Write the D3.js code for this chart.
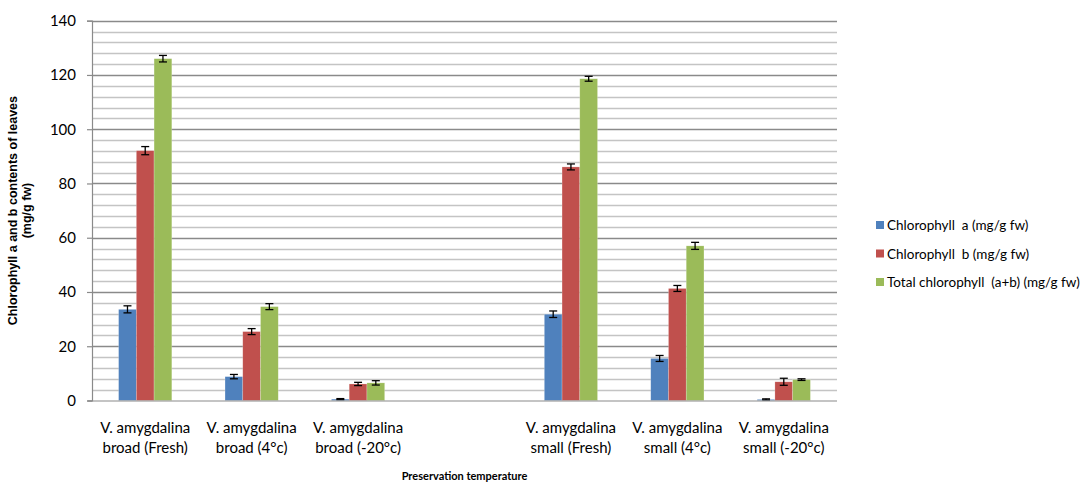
<!DOCTYPE html>
<html><head><meta charset="utf-8">
<script src="https://cdn.jsdelivr.net/npm/d3@7"></script>
<style>
body{margin:0;background:#fff;}
svg{display:block;}
text{font-family:Lato,"Open Sans",sans-serif;fill:#000;white-space:pre;}
</style></head><body>
<svg id="c" width="1091" height="482"></svg>
<script>
const categories = [
  ["V. amygdalina","broad (Fresh)"],
  ["V. amygdalina","broad (4°c)"],
  ["V. amygdalina","broad (-20°c)"],
  ["",""],
  ["V. amygdalina","small (Fresh)"],
  ["V. amygdalina","small (4°c)"],
  ["V. amygdalina","small (-20°c)"]
];
const seriesNames = ["Chlorophyll  a (mg/g fw)","Chlorophyll  b (mg/g fw)","Total chlorophyll  (a+b) (mg/g fw)"];
const chlA   = [33.6, 8.8, 0.5, null, 31.8, 15.5, 0.4];
const chlB   = [92.1, 25.4, 6.1, null, 86.1, 41.3, 6.9];
const total  = [126.0, 34.6, 6.5, null, 118.6, 57.0, 7.7];
const errA   = [1.3, 0.8, 0.2, null, 1.2, 1.1, 0.2];
const errB   = [1.5, 1.1, 0.6, null, 1.1, 1.1, 1.3];
const errT   = [1.2, 1.1, 0.8, null, 0.9, 1.3, 0.3];
const yTicks = [0,20,40,60,80,100,120,140];
const colors = ["#4F81BD","#C0504D","#9BBB59"];

const values = [chlA, chlB, total];
const errs = [errA, errB, errT];

const svg = d3.select("#c");
const L=92, R=837, T=20.7, B=400.5;
const x = d3.scaleBand().domain(d3.range(categories.length)).range([L,R]).paddingInner(0).paddingOuter(0);
const y = d3.scaleLinear().domain([0,140]).range([B,T]);
const groupW = x.bandwidth()/2;
const xs = d3.scaleBand().domain(d3.range(3)).range([0,groupW]);

// gridlines
const minor = d3.range(4,140,4).filter(v=>v%20!==0);
svg.append("g").selectAll("line").data(minor).join("line")
  .attr("x1",L).attr("x2",R).attr("y1",d=>Math.round(y(d))+0.5).attr("y2",d=>Math.round(y(d))+0.5)
  .attr("stroke","#c4c4c4").attr("stroke-width",1.5);
svg.append("g").selectAll("line").data(yTicks.filter(v=>v>0)).join("line")
  .attr("x1",L).attr("x2",R).attr("y1",d=>Math.round(y(d))+0.5).attr("y2",d=>Math.round(y(d))+0.5)
  .attr("stroke","#8a8a8a").attr("stroke-width",1.5);

// y axis
const yAxis = d3.axisLeft(y).tickValues(yTicks).tickSize(5).tickPadding(11);
const gy = svg.append("g").attr("transform",`translate(${L},0)`).call(yAxis);
gy.select(".domain").attr("stroke","#8a8a8a").attr("stroke-width",1.2);
gy.selectAll(".tick line").attr("stroke","#8a8a8a").attr("stroke-width",1.2);
gy.selectAll(".tick text").style("font-size","15px").attr("font-family","Lato").attr("fill","#000");

// bars
categories.forEach((c,i)=>{
  values.forEach((vals,s)=>{
    const v = vals[i];
    if(v==null) return;
    const bx = x(i) + (x.bandwidth()-groupW)/2 + xs(s);
    svg.append("rect").attr("x",bx).attr("y",y(v)).attr("width",xs.bandwidth()).attr("height",B-y(v))
      .attr("fill",colors[s]).attr("stroke","rgba(255,255,255,0.35)").attr("stroke-width",0.6);
  });
});
// error bars
categories.forEach((c,i)=>{
  values.forEach((vals,s)=>{
    const v = vals[i], e = errs[s][i];
    if(v==null) return;
    const cx = x(i) + (x.bandwidth()-groupW)/2 + xs(s) + xs.bandwidth()/2;
    const g = svg.append("g").attr("stroke","#000").attr("stroke-width",1.3);
    g.append("line").attr("x1",cx).attr("x2",cx).attr("y1",y(v+e)).attr("y2",y(v-e));
    g.append("line").attr("x1",cx-4).attr("x2",cx+4).attr("y1",y(v+e)).attr("y2",y(v+e));
    g.append("line").attr("x1",cx-4).attr("x2",cx+4).attr("y1",y(v-e)).attr("y2",y(v-e));
  });
});

// x axis line
svg.append("line").attr("x1",L-4).attr("x2",R).attr("y1",B+0.5).attr("y2",B+0.5)
  .attr("stroke","#8a8a8a").attr("stroke-width",1.2);

// x labels
categories.forEach((c,i)=>{
  const cx = x(i)+x.bandwidth()/2;
  c.forEach((t,k)=>{
    svg.append("text").attr("x",cx).attr("y",433+k*20).attr("text-anchor","middle")
      .style("font-size","15px").text(t);
  });
});

// axis titles
svg.append("text").attr("x",(L+R)/2).attr("y",480).attr("text-anchor","middle")
  .style("font-size","11px").style("font-weight","bold").text("Preservation temperature");
const yt = svg.append("text").attr("transform",`translate(0,${(T+B)/2}) rotate(-90)`)
  .attr("text-anchor","middle").style("font-size","12.5px").style("font-weight","bold");
yt.append("tspan").attr("x",0).attr("y",17).style("font-family","Liberation Sans").text("Chlorophyll a and b contents of leaves");
yt.append("tspan").attr("x",0).attr("y",31).style("font-family","Liberation Sans").text("(mg/g fw)");

// legend
const lg = svg.append("g").attr("transform","translate(876,225)");
seriesNames.forEach((n,i)=>{
  const g = lg.append("g").attr("transform",`translate(0,${i*28.5})`);
  g.append("rect").attr("x",0).attr("y",-4).attr("width",8).attr("height",8).attr("fill",colors[i]);
  g.append("text").attr("x",11).attr("y",5).style("font-size","13.5px").text(n);
});
</script>
</body></html>
